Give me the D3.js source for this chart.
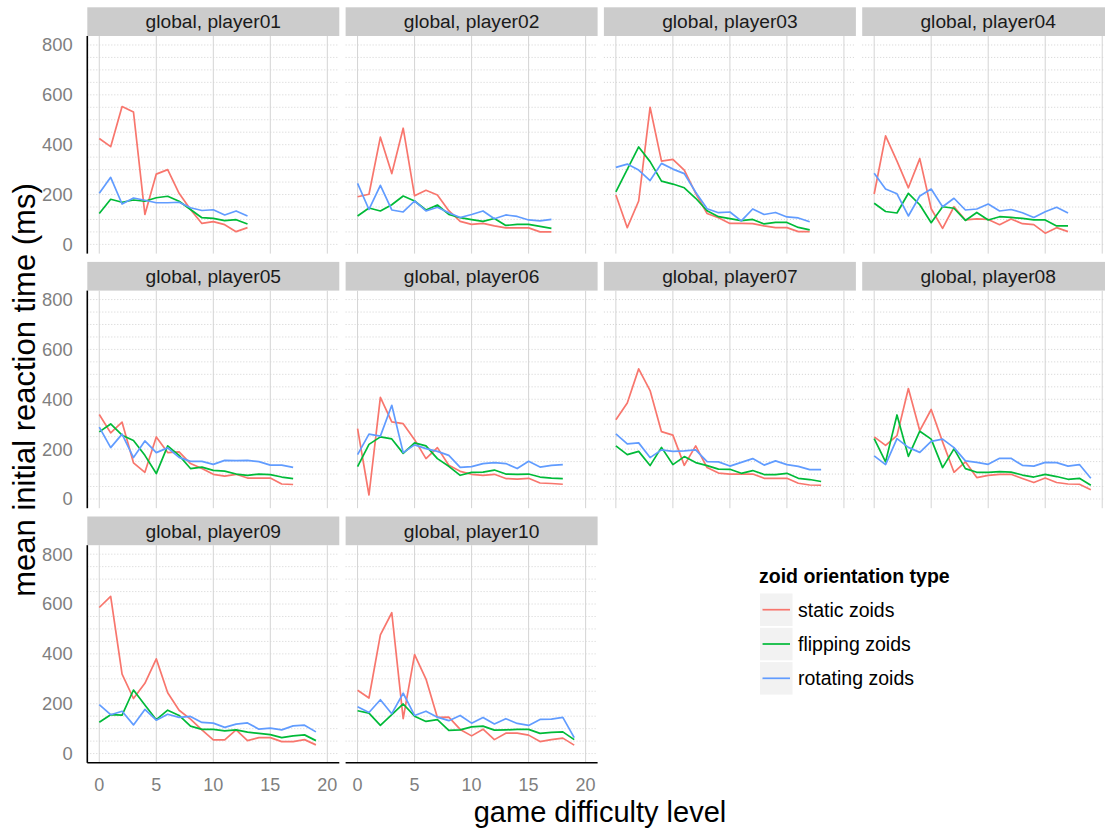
<!DOCTYPE html>
<html>
<head>
<meta charset="utf-8">
<script src="https://cdn.jsdelivr.net/npm/d3@7"></script>
<style>
    body { margin: 0; background: #fff; }
    svg { display: block; font-family: "Liberation Sans", Arial, sans-serif; }
</style>
</head>
<body>
<svg id="chart" width="1105" height="828"></svg>
<script>
/* facet panels: mean initial reaction time by difficulty level */

const players = ["player01", "player02", "player03", "player04", "player05",
    "player06", "player07", "player08", "player09", "player10"];

const seriesNames = ["static zoids", "flipping zoids", "rotating zoids"];
const seriesColors = ["#F8766D", "#00BA38", "#619CFF"];

const xTicks = [0, 5, 10, 15, 20];
const yTicks = [0, 200, 400, 600, 800];

// values per player, index = game difficulty level
const staticZoids = [
    [425, 392, 553, 531, 120, 282, 300, 205, 140, 84, 91, 79, 51, 67],
    [191, 201, 430, 284, 466, 195, 217, 198, 135, 92, 80, 84, 74, 66, 66, 66, 50, 50],
    [198, 67, 174, 550, 334, 341, 298, 205, 124, 107, 84, 84, 83, 74, 67, 67, 51, 51],
    [202, 435, 334, 227, 344, 143, 64, 151, 98, 102, 100, 79, 102, 83, 79, 45, 67, 51],
    [339, 265, 308, 145, 107, 249, 186, 189, 142, 122, 99, 92, 99, 84, 84, 84, 60, 58],
    [282, 16, 408, 309, 302, 238, 162, 206, 135, 111, 99, 95, 99, 82, 80, 83, 64, 62, 59],
    [318, 385, 522, 435, 270, 256, 135, 213, 126, 104, 100, 100, 100, 83, 83, 83, 63, 56, 55],
    [249, 215, 254, 443, 274, 359, 229, 107, 149, 86, 95, 99, 99, 82, 66, 84, 66, 60, 59, 37],
    [586, 631, 319, 221, 282, 380, 244, 174, 138, 95, 55, 55, 95, 52, 64, 64, 48, 48, 56, 35],
    [254, 223, 476, 565, 140, 397, 299, 145, 146, 97, 71, 98, 56, 82, 82, 74, 48, 56, 62, 34]
];

const flippingZoids = [
    [124, 181, 169, 178, 173, 187, 193, 173, 140, 107, 104, 95, 99, 82],
    [114, 146, 134, 159, 194, 174, 138, 158, 120, 107, 99, 92, 104, 76, 80, 80, 72, 64],
    [211, 301, 391, 332, 254, 242, 227, 185, 135, 111, 103, 95, 100, 82, 88, 88, 68, 58],
    [165, 132, 126, 205, 159, 87, 151, 145, 96, 128, 98, 111, 108, 104, 98, 98, 74, 74],
    [269, 301, 256, 235, 175, 102, 213, 175, 122, 128, 115, 112, 100, 95, 100, 98, 88, 82],
    [130, 219, 249, 241, 183, 225, 213, 162, 131, 95, 107, 108, 116, 100, 99, 100, 88, 84, 82],
    [213, 178, 191, 134, 207, 138, 170, 146, 134, 120, 119, 103, 114, 98, 98, 103, 83, 78, 70],
    [242, 149, 337, 171, 272, 240, 126, 201, 122, 107, 107, 110, 108, 96, 88, 99, 90, 79, 83, 55],
    [126, 156, 154, 255, 195, 136, 174, 153, 110, 97, 97, 91, 95, 86, 81, 76, 64, 71, 75, 52],
    [172, 162, 113, 156, 199, 150, 129, 136, 93, 95, 107, 110, 94, 95, 97, 97, 81, 85, 87, 56]
];

const rotatingZoids = [
    [205, 269, 162, 186, 177, 167, 167, 169, 147, 136, 139, 118, 134, 114],
    [245, 140, 237, 138, 130, 174, 134, 149, 127, 108, 120, 134, 103, 118, 112, 98, 94, 100],
    [309, 322, 298, 256, 325, 302, 284, 209, 143, 127, 130, 94, 142, 120, 128, 110, 106, 91],
    [285, 222, 203, 114, 194, 222, 151, 185, 138, 142, 162, 134, 140, 127, 108, 131, 149, 126],
    [288, 206, 260, 166, 233, 186, 205, 167, 151, 151, 139, 155, 154, 155, 150, 136, 136, 127],
    [178, 260, 252, 376, 186, 217, 202, 191, 175, 127, 130, 142, 146, 142, 122, 151, 128, 135, 138],
    [261, 221, 225, 166, 197, 191, 193, 197, 150, 149, 132, 147, 162, 136, 153, 138, 131, 118, 118],
    [173, 138, 242, 207, 187, 231, 240, 206, 153, 147, 139, 163, 163, 135, 132, 147, 146, 132, 138, 83],
    [196, 156, 170, 115, 177, 134, 158, 145, 149, 125, 122, 105, 118, 123, 98, 102, 95, 111, 114, 87],
    [188, 165, 216, 160, 242, 153, 170, 146, 132, 153, 122, 145, 119, 140, 121, 113, 137, 138, 145, 64]
];

const series = [staticZoids, flippingZoids, rotatingZoids];

const svg = d3.select("#chart");

const nCols = 4;
const panelLeft = 87.3;
const panelW = 252;
const colStep = 258.3;
const stripTop = 7.3;
const stripH = 28.7;
const panelH = 217.6;
const rowStep = 254.6;

const x = d3.scaleLinear().domain([-1.05, 21.05]).range([0, panelW]);
const y = d3.scaleLinear().domain([-37, 836]).range([panelH, 0]);
const yGrid = d3.range(0, 801, 50);

const line = d3.line()
    .x((d, i) => x(i))
    .y(d => y(d));

const nRows = Math.ceil(players.length / nCols);

players.forEach((player, p) => {
    const col = p % nCols;
    const row = Math.floor(p / nCols);
    const left = panelLeft + col * colStep;
    const top = stripTop + row * rowStep;

    // strip
    svg.append("rect")
        .attr("x", left)
        .attr("y", top)
        .attr("width", panelW)
        .attr("height", stripH)
        .attr("fill", "#cccccc");
    svg.append("text")
        .attr("x", left + panelW / 2)
        .attr("y", top + stripH / 2)
        .attr("dy", "0.35em")
        .attr("text-anchor", "middle")
        .attr("font-size", 19.2)
        .attr("fill", "#1a1a1a")
        .text(`global, ${player}`);

    const g = svg.append("g").attr("transform", `translate(${left},${top + stripH})`);

    // grid
    g.selectAll(".hgrid")
        .data(yGrid)
        .enter()
        .append("line")
        .attr("x1", 0)
        .attr("x2", panelW)
        .attr("y1", d => y(d))
        .attr("y2", d => y(d))
        .attr("stroke", "#c8c8c8")
        .attr("stroke-width", 0.8)
        .attr("stroke-dasharray", "1,2");
    g.selectAll(".vgrid")
        .data(xTicks)
        .enter()
        .append("line")
        .attr("x1", d => x(d))
        .attr("x2", d => x(d))
        .attr("y1", 0)
        .attr("y2", panelH)
        .attr("stroke", "#d4d4d4")
        .attr("stroke-width", 1);

    // lines
    series.forEach((s, k) => {
        g.append("path")
            .datum(s[p])
            .attr("d", line)
            .attr("fill", "none")
            .attr("stroke", seriesColors[k])
            .attr("stroke-width", 1.7)
            .attr("stroke-linejoin", "round");
    });

    // y axis on left column
    if (col === 0) {
        g.append("line")
            .attr("x1", 0)
            .attr("x2", 0)
            .attr("y1", 0)
            .attr("y2", panelH)
            .attr("stroke", "#000")
            .attr("stroke-width", 1.6);
        g.selectAll(".ylab")
            .data(yTicks)
            .enter()
            .append("text")
            .attr("x", -14.5)
            .attr("y", d => y(d))
            .attr("dy", "0.35em")
            .attr("text-anchor", "end")
            .attr("font-size", 18.4)
            .attr("fill", "#7f7f7f")
            .text(d => d);
    }

    // x axis on bottom row
    if (row === nRows - 1) {
        g.append("line")
            .attr("x1", 0)
            .attr("x2", panelW)
            .attr("y1", panelH)
            .attr("y2", panelH)
            .attr("stroke", "#000")
            .attr("stroke-width", 1.6);
        g.selectAll(".xlab")
            .data(xTicks)
            .enter()
            .append("text")
            .attr("x", d => x(d))
            .attr("y", panelH + 21.8)
            .attr("dy", "0.35em")
            .attr("text-anchor", "middle")
            .attr("font-size", 18)
            .attr("fill", "#7f7f7f")
            .text(d => d);
    }
});

// axis titles
svg.append("text")
    .attr("x", 600)
    .attr("y", 822)
    .attr("text-anchor", "middle")
    .attr("font-size", 29)
    .attr("fill", "#000")
    .text("game difficulty level");

svg.append("text")
    .attr("transform", "translate(35,390) rotate(-90)")
    .attr("text-anchor", "middle")
    .attr("font-size", 31)
    .attr("fill", "#000")
    .text("mean initial reaction time (ms)");

// legend
const legend = svg.append("g").attr("transform", "translate(759,0)");
legend.append("text")
    .attr("x", 0)
    .attr("y", 583)
    .attr("font-size", 19.5)
    .attr("font-weight", "bold")
    .attr("fill", "#000")
    .text("zoid orientation type");

seriesNames.forEach((name, k) => {
    const ky = 593.5 + k * 34.3;
    legend.append("rect")
        .attr("x", 1)
        .attr("y", ky)
        .attr("width", 32.5)
        .attr("height", 32.5)
        .attr("fill", "#f2f2f2");
    legend.append("line")
        .attr("x1", 3.5)
        .attr("x2", 31)
        .attr("y1", ky + 16.2)
        .attr("y2", ky + 16.2)
        .attr("stroke", seriesColors[k])
        .attr("stroke-width", 1.7);
    legend.append("text")
        .attr("x", 39)
        .attr("y", ky + 16.2)
        .attr("dy", "0.35em")
        .attr("font-size", 19.5)
        .attr("fill", "#000")
        .text(name);
});
</script>
</body>
</html>
